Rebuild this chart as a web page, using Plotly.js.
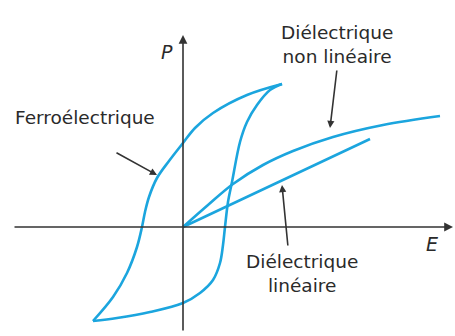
<!DOCTYPE html>
<html>
<head>
<meta charset="utf-8">
<script src="https://cdn.plot.ly/plotly-3.0.1.min.js"></script>
<style>
  html, body { margin: 0; padding: 0; background: #fff; }
  #plot1 { width: 455px; height: 336px; }
</style>
</head>
<body>
<div id="plot1"></div>
<script>
// values (E and P in arbitrary units)
var ferro_up_E = [99, 64, 30, 12, 0, -14, -26, -34, -38, -41, -46, -56, -70, -90];
var ferro_up_P = [143, 132, 114, 99, 84, 66, 49, 30, 15, 0, -20, -46, -70, -94];
var ferro_down_E = [-90, -66, -33, 0, 17, 30, 37, 40, 42, 45, 49, 57, 64, 74, 87, 99];
var ferro_down_P = [-94, -91, -85, -76, -66, -53, -36, -18, 0, 25, 45, 85, 105, 122, 137, 143];

var nonlin_E = [0, 25, 50, 80, 110, 150, 200, 257];
var nonlin_P = [0, 22, 43, 62, 76, 90, 102, 111];

var lin_E = [0, 187];
var lin_P = [0, 88];

var labels = ["Ferroélectrique", "Diélectrique<br>non linéaire", "Diélectrique<br>linéaire"];

var blue = "#1ba5de";
var ink = "#333333";
var font_txt = "DejaVu Sans, sans-serif";

function curve(x, y, shape) {
  return {
    x: x, y: y, type: "scatter", mode: "lines",
    line: {color: blue, width: 2.6, shape: shape, smoothing: 1},
    hoverinfo: "skip"
  };
}

var data = [
  curve(ferro_up_E, ferro_up_P, "spline"),
  curve(ferro_down_E, ferro_down_P, "spline"),
  curve(nonlin_E, nonlin_P, "spline"),
  curve(lin_E, lin_P, "linear")
];

function arrow(x, y, ax, ay, size) {
  return {
    x: x, y: y, ax: ax, ay: ay, xref: "x", yref: "y", axref: "x", ayref: "y",
    text: "", showarrow: true, arrowhead: 2, arrowsize: size, arrowwidth: 1.6, arrowcolor: ink
  };
}

function label(x, y, txt, opts) {
  var a = {
    x: x, y: y, xref: "x", yref: "y", text: txt, showarrow: false,
    xanchor: "center", yanchor: "middle", align: "center",
    font: {family: font_txt, size: 18.5, color: "#2a2a2a"}
  };
  for (var k in opts) a[k] = opts[k];
  return a;
}

var annotations = [
  // axes
  arrow(270, 0, -170, 0, 1.1),
  arrow(0, 192, 0, -105, 1.1),
  // pointers
  arrow(-26, 52, -68, 75, 0.9),
  arrow(147, 99, 154, 158, 0.9),
  arrow(99, 42, 105, -20, 0.9),
  // texts
  label(-98, 110, labels[0]),
  label(154, 183, labels[1]),
  label(119, -46, labels[2]),
  label(-16, 175, "<i>P</i>", {font: {family: font_txt, size: 19, color: "#2a2a2a"}}),
  label(249, -17, "<i>E</i>", {font: {family: font_txt, size: 19, color: "#2a2a2a"}})
];

var layout = {
  width: 455, height: 336,
  margin: {l: 0, r: 0, t: 0, b: 0},
  paper_bgcolor: "#fff", plot_bgcolor: "#fff",
  showlegend: false,
  xaxis: {range: [-183, 272], visible: false, fixedrange: true},
  yaxis: {range: [-109, 227], visible: false, fixedrange: true},
  annotations: annotations
};

Plotly.newPlot("plot1", data, layout, {displayModeBar: false, staticPlot: true});
</script>
</body>
</html>
